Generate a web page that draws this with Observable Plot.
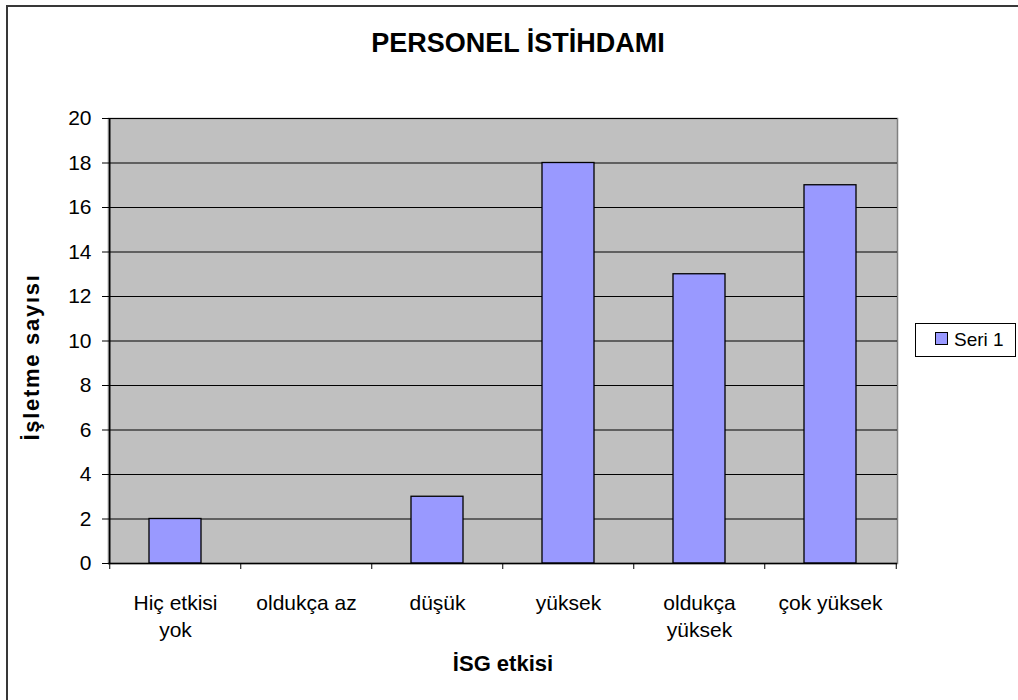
<!DOCTYPE html>
<html>
<head>
<meta charset="utf-8">
<script src="https://cdn.jsdelivr.net/npm/d3@7"></script>
<script src="https://cdn.jsdelivr.net/npm/@observablehq/plot@0.6"></script>
<style>
  html, body { margin: 0; padding: 0; background: white; }
  #wrap { position: relative; width: 1018px; height: 700px; overflow: hidden; background: white;
          font-family: "Liberation Sans", Arial, sans-serif; color: black; }
  #border { position: absolute; left: 6px; top: 5px; width: 1200px; height: 900px;
            border-left: 2px solid #383838; border-top: 2px solid #383838; }
  #chart { position: absolute; left: 0; top: 0; }
  .lbl { position: absolute; white-space: nowrap; }
  #title { left: 318px; width: 400px; text-align: center; top: 30px; font-size: 27px; line-height: 27px; font-weight: bold; }
  #xlabel { left: 403px; width: 200px; text-align: center; top: 653px; font-size: 22px; line-height: 22px; font-weight: bold; }
  #ylabel { left: 32px; top: 357px; width: 300px; text-align: center; font-size: 22px; line-height: 22px; font-weight: bold;
            letter-spacing: 1.7px; transform: translate(-50%, -50%) rotate(-90deg); }
  #legend { position: absolute; left: 915px; top: 323px; width: 101px; height: 34px; border: 1px solid black; background: white; box-sizing: border-box; }
  #legend .sw { position: absolute; left: 19px; top: 8px; width: 13px; height: 13px; background: #9999ff; border: 1px solid black; box-sizing: border-box; }
  #legend .tx { position: absolute; left: 38px; top: 6px; font-size: 19px; line-height: 19px; }
</style>
</head>
<body>
<div id="wrap">
  <div id="border"></div>
  <div id="chart"></div>
  <div id="title" class="lbl">PERSONEL İSTİHDAMI</div>
  <div id="xlabel" class="lbl">İSG etkisi</div>
  <div id="ylabel" class="lbl">İşletme sayısı</div>
  <div id="legend"><div class="sw"></div><div class="tx">Seri 1</div></div>
</div>
<script>
const categories = ["Hiç etkisi yok", "oldukça az", "düşük", "yüksek", "oldukça yüksek", "çok yüksek"];
const tickLabels = ["Hiç etkisi\nyok", "oldukça az", "düşük", "yüksek", "oldukça\nyüksek", "çok yüksek"];
const values = [2, 0, 3, 18, 13, 17];
const yTicks = [0, 2, 4, 6, 8, 10, 12, 14, 16, 18, 20];
const seriesName = "Seri 1";

const data = categories.map((c, i) => ({category: c, value: values[i]}));

const W = 1018, H = 700, mL = 108, mR = 121, mT = 118, mB = 137;
const step = (W - mL - mR) / categories.length;

const chart = Plot.plot({
  width: W,
  height: H,
  marginLeft: mL,
  marginRight: mR,
  marginTop: mT,
  marginBottom: mB,
  style: {fontFamily: "'Liberation Sans', Arial, sans-serif", fontSize: "21px", color: "black", background: "transparent", overflow: "visible"},
  x: {domain: categories, paddingInner: 0.6, paddingOuter: 0.3, axis: null},
  y: {domain: [0, 20], axis: null},
  marks: [
    Plot.frame({fill: "#c0c0c0", stroke: "#808080", strokeWidth: 1.5}),
    Plot.ruleY(yTicks, {stroke: "black", strokeWidth: 1}),
    Plot.barY(data, {x: "category", y: "value", fill: "#9999ff", stroke: "black", strokeWidth: 1.3}),
    Plot.ruleX([categories[0]], {dx: -step / 2, stroke: "black", strokeWidth: 1.5}),
    Plot.ruleY([0], {stroke: "black", strokeWidth: 1.5}),
    Plot.axisY(yTicks, {tickSize: 6, tickPadding: 11, tickFormat: d => String(d), label: null, stroke: "black", fontSize: 21}),
    Plot.axisX({tickSize: 0, tickPadding: 27, tickFormat: d => tickLabels[categories.indexOf(d)], label: null, lineHeight: 1.29, fontSize: 21}),
    Plot.axisX({tickSize: 6, tickFormat: () => "", dx: -step / 2, label: null, stroke: "black"}),
    Plot.axisX([categories[categories.length - 1]], {tickSize: 6, tickFormat: () => "", dx: step / 2, label: null, stroke: "black"})
  ]
});
document.getElementById("chart").appendChild(chart);
</script>
</body>
</html>
